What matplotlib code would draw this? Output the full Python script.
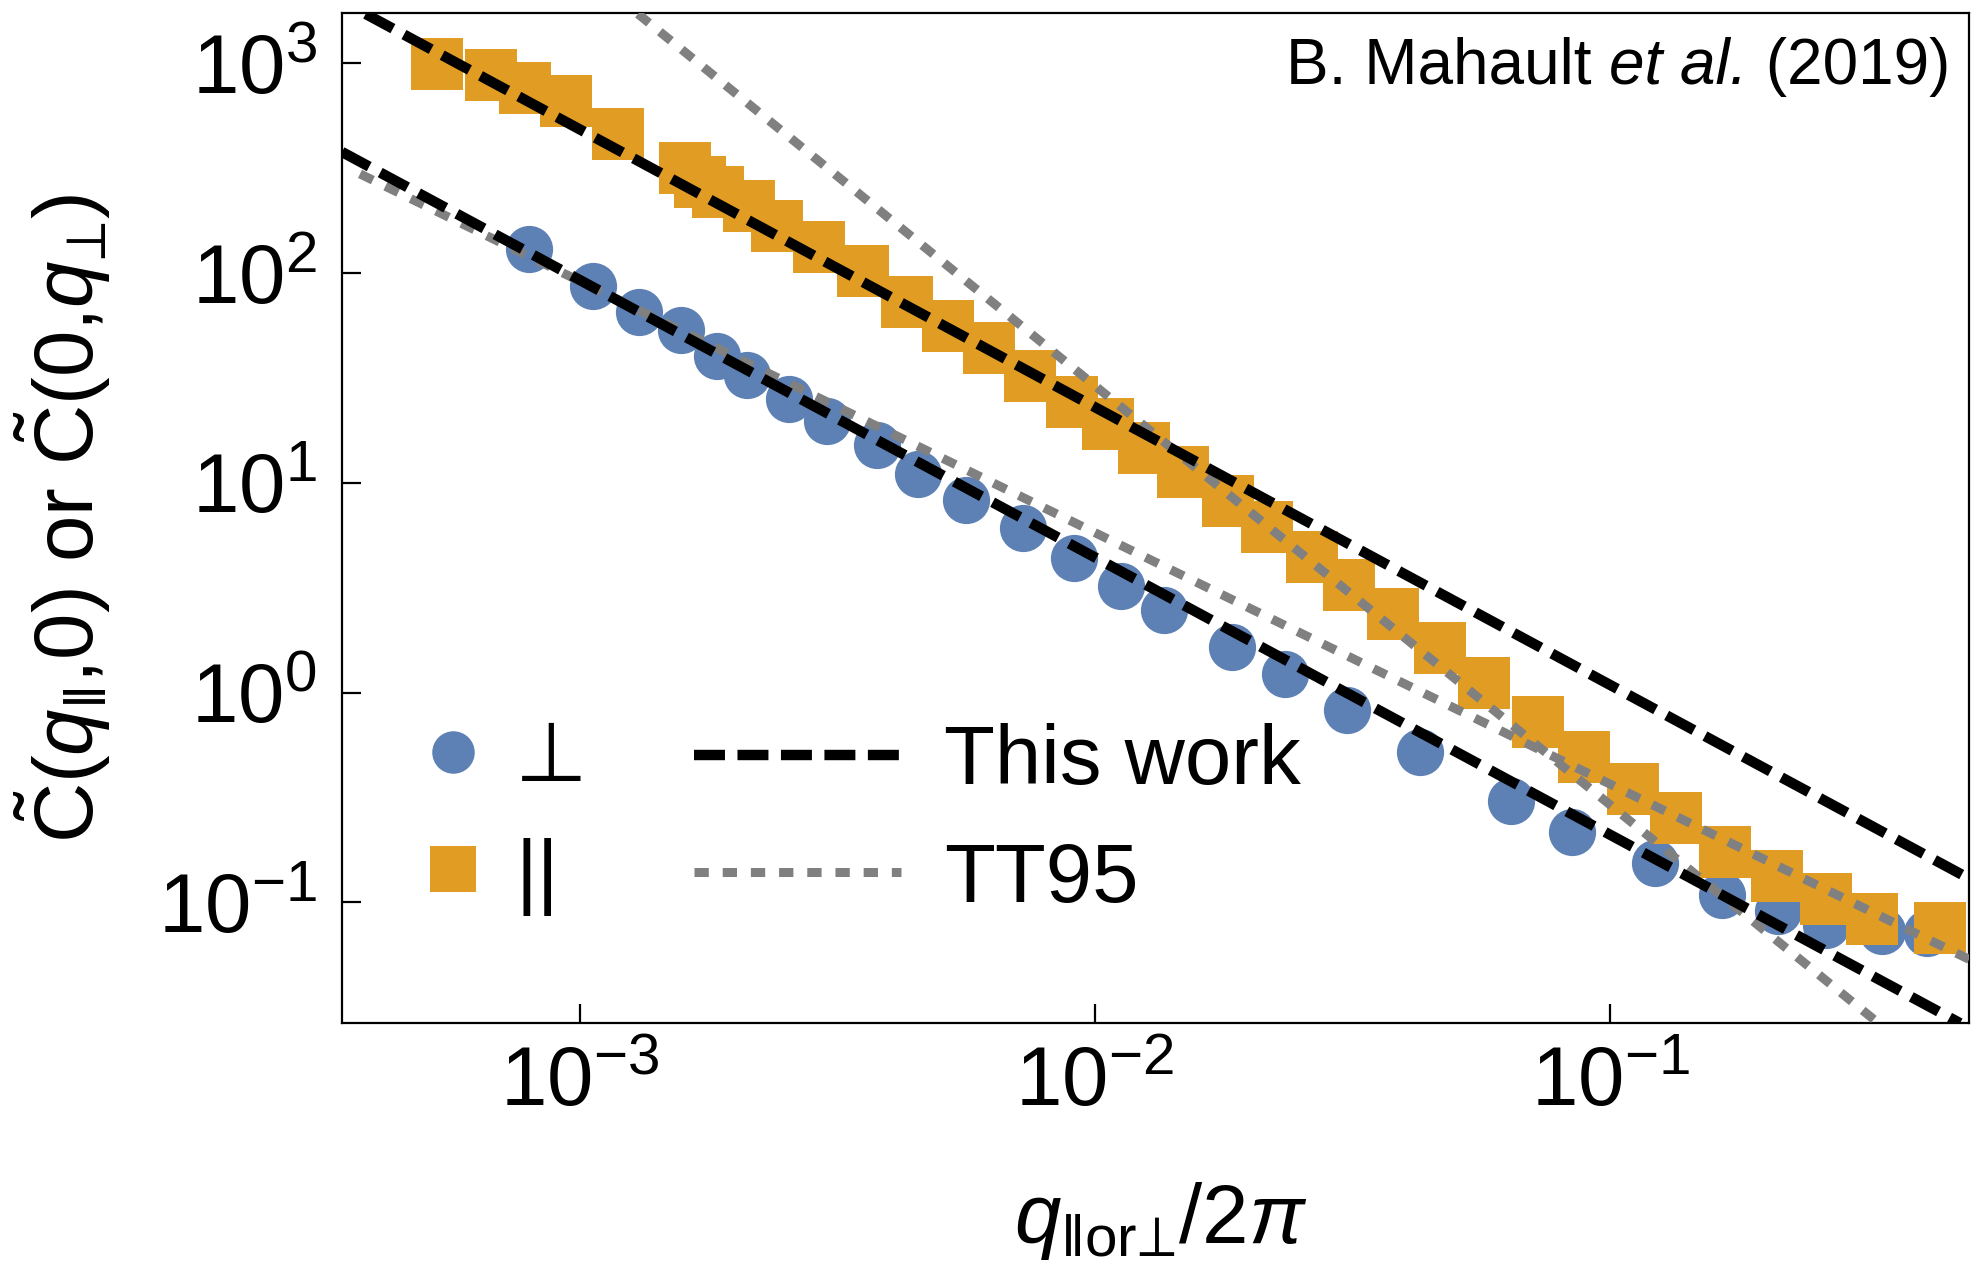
import matplotlib
matplotlib.use("Agg")
import matplotlib.pyplot as plt
from matplotlib.lines import Line2D
from matplotlib.ticker import LogLocator, NullLocator

plt.rcParams['font.family'] = ['Liberation Sans', 'DejaVu Sans']
plt.rcParams['mathtext.fontset'] = 'custom'
plt.rcParams['mathtext.rm'] = 'Liberation Sans'
plt.rcParams['mathtext.it'] = 'Liberation Sans:italic'
plt.rcParams['mathtext.bf'] = 'Liberation Sans:bold'
plt.rcParams['lines.scale_dashes'] = False

# ---------------- data ----------------
q_perp = [7.97e-4, 1.062e-3, 1.305e-3, 1.572e-3, 1.845e-3, 2.118e-3, 2.547e-3,
          3.022e-3, 3.772e-3, 4.528e-3, 5.633e-3, 7.24e-3, 9.12e-3, 1.123e-2,
          1.363e-2, 1.843e-2, 2.344e-2, 3.091e-2, 4.273e-2, 6.416e-2, 8.44e-2,
          0.1223, 0.1650, 0.2120, 0.2622, 0.3375, 0.4115]
C_perp = [129.8, 86.5, 65.3, 53.4, 40.1, 32.8, 25.2, 19.72, 15.16, 10.99, 8.245,
          6.06, 4.39, 3.23, 2.48, 1.653, 1.221, 0.830, 0.521, 0.304, 0.2165,
          0.1536, 0.108, 0.0905, 0.0781, 0.0729, 0.0716]

q_par = [5.29e-4, 6.74e-4, 7.83e-4, 9.42e-4, 1.189e-3, 1.601e-3, 1.715e-3,
         1.860e-3, 2.134e-3, 2.422e-3, 2.919e-3, 3.546e-3, 4.316e-3, 5.187e-3,
         6.243e-3, 7.48e-3, 9.02e-3, 1.059e-2, 1.247e-2, 1.481e-2, 1.817e-2,
         2.163e-2, 2.634e-2, 3.117e-2, 3.794e-2, 4.668e-2, 5.683e-2, 7.23e-2,
         8.896e-2, 0.1107, 0.1343, 0.1672, 0.2109, 0.2618, 0.3229, 0.4358]
C_par = [992, 876, 761, 660, 459, 318, 271, 244, 208, 166.8, 133.5, 102.3, 72.7,
         55.8, 43.8, 32.3, 24.3, 19.15, 14.67, 11.27, 8.20, 6.16, 4.42, 3.26,
         2.36, 1.632, 1.109, 0.722, 0.4906, 0.3467, 0.2512, 0.174, 0.1337,
         0.1042, 0.0834, 0.0756]

# theory power laws (end points)
thiswork_par_q = [3.846e-4, 0.4957]
thiswork_par_C = [1718, 0.1304]
thiswork_perp_q = [3.459e-4, 0.4776]
thiswork_perp_C = [377.7, 0.02655]
tt95_par_q = [1.2984e-3, 0.3421]
tt95_par_C = [1718, 0.02495]
tt95_perp_q = [3.750e-4, 0.4993]
tt95_perp_C = [296.8, 0.05321]

xlim = (3.46e-4, 0.497)
ylim = (0.0266, 1730)

marker_labels = ['\u22a5', '||']
line_labels = ['This work', 'TT95']

blue = '#5E81B5'
orange = '#E19C24'
grey = '#808080'

W, H = 1971, 1263
fig = plt.figure(figsize=(W / 100, H / 100), dpi=100)
ax = fig.add_axes([342 / W, 1 - 1023 / H, (1969 - 342) / W, (1023 - 13.3) / H])

ax.plot(q_perp, C_perp, 'o', ms=34, mew=0, color=blue, zorder=2)
ax.plot(q_par, C_par, 's', ms=37.4, mew=0, color=orange, zorder=3)

dash = (0, (22.3, 9.0))
dot = (0, (10.3, 10.0))
ax.plot(tt95_perp_q, tt95_perp_C, color=grey, lw=6.5, ls=dot, dash_capstyle='butt', zorder=4)
ax.plot(tt95_par_q, tt95_par_C, color=grey, lw=6.5, ls=dot, dash_capstyle='butt', zorder=4)
ax.plot(thiswork_par_q, thiswork_par_C, color='black', lw=7.5, ls=dash, dash_capstyle='butt', zorder=5)
ax.plot(thiswork_perp_q, thiswork_perp_C, color='black', lw=7.5, ls=dash, dash_capstyle='butt', zorder=5)

ax.set_xscale('log')
ax.set_yscale('log')
ax.set_xlim(*xlim)
ax.set_ylim(*ylim)
ax.xaxis.set_major_locator(LogLocator(base=10, numticks=10))
ax.yaxis.set_major_locator(LogLocator(base=10, numticks=10))
ax.xaxis.set_minor_locator(NullLocator())
ax.yaxis.set_minor_locator(NullLocator())

for s in ax.spines.values():
    s.set_linewidth(1.6)
ax.tick_params(which='major', direction='in', length=13.7, width=1.6,
               labelsize=60, top=False, right=False)
ax.tick_params(axis='y', pad=18)
ax.tick_params(axis='x', pad=16)

ax.set_xlabel('$q_{\\Vert\\mathrm{or}\u22a5}/2\\pi$', fontsize=60)
ax.xaxis.set_label_coords(0.503, -0.155)
ax.set_ylabel('$\\tilde{\\mathrm{C}}(q_{\\Vert}{,}0)$ or $\\tilde{\\mathrm{C}}(0{,}q_{\u22a5})$',
              fontsize=60)
ax.yaxis.set_label_coords(-0.141, 0.5)

# author annotation, built right to left so the italic part keeps normal spacing
renderer = fig.canvas.get_renderer()
x_right = 1950 / W
y_base = 1 - 84 / H
parts = [('B. Mahault ', 'normal'), ('et al.', 'italic'), (' (2019)', 'normal')]
for txt, style in reversed(parts):
    t = fig.text(x_right, y_base, txt, ha='right', va='baseline', fontsize=46, style=style)
    bb = t.get_window_extent(renderer=renderer)
    x_right = bb.x0 / W

# legends
h_circ = Line2D([], [], ls='none', marker='o', ms=34, mew=0, color=blue)
h_sq = Line2D([], [], ls='none', marker='s', ms=37.4, mew=0, color=orange)
leg1 = ax.legend([h_circ, h_sq], marker_labels, loc='center left',
                 bbox_to_anchor=(411 / W, 1 - 818 / H), bbox_transform=fig.transFigure,
                 frameon=False, fontsize=60, markerscale=0.9, handlelength=1.0,
                 handletextpad=0.25, borderpad=0, borderaxespad=0, labelspacing=0.47)
ax.add_artist(leg1)
h_dash = Line2D([], [], color='black', lw=7.5, ls=dash, dash_capstyle='butt')
h_dot = Line2D([], [], color=grey, lw=6.5, ls=dot, dash_capstyle='butt')
leg2 = ax.legend([h_dash, h_dot], line_labels, loc='center left',
                 bbox_to_anchor=(694 / W, 1 - 821 / H), bbox_transform=fig.transFigure,
                 frameon=False, fontsize=60, handlelength=2.48,
                 handletextpad=0.52, borderpad=0, borderaxespad=0, labelspacing=0.47)

fig.savefig('out.png', dpi=100)
